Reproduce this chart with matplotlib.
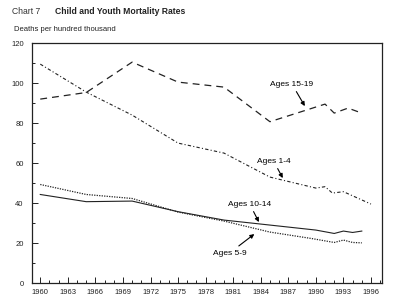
import matplotlib.pyplot as plt
from matplotlib.ticker import MultipleLocator

plt.rcParams['font.family'] = ['Liberation Sans', 'DejaVu Sans']

# Deaths per hundred thousand
years_15_19 = [1960, 1965, 1970, 1975, 1980, 1985, 1991, 1992, 1993.5, 1995]
ages_15_19 = [92, 95.3, 110.5, 100.5, 98, 80.7, 89.5, 85, 87.5, 85]

years_1_4 = [1960, 1965, 1970, 1975, 1980, 1985, 1990, 1991, 1991.8, 1993, 1996]
ages_1_4 = [109.5, 95.5, 84, 70, 65, 53, 47.5, 48.2, 45, 45.7, 39.5]

years_10_14 = [1960, 1965, 1970, 1975, 1980, 1985, 1990, 1992, 1993, 1994, 1995]
ages_10_14 = [44.3, 40.7, 41, 35.7, 31.5, 29, 26.5, 24.8, 26, 25.3, 26]

years_5_9 = [1960, 1965, 1970, 1975, 1980, 1985, 1989.5, 1992, 1993, 1994, 1995]
ages_5_9 = [49.3, 44.3, 42.3, 35.5, 31, 25.5, 22.3, 20.3, 21.5, 20.3, 20.1]

xticks = list(range(1960, 1997, 3))

fig = plt.figure(figsize=(4, 3.08), dpi=100)
ax = fig.add_axes([0.08, 0.081, 0.875, 0.779])

ax.plot(years_15_19, ages_15_19, color='#222222', lw=0.9, linestyle=(0, (5.5, 4)))
ax.plot(years_1_4, ages_1_4, color='#222222', lw=0.8, linestyle=(0, (3, 2, 1, 2)))
ax.plot(years_10_14, ages_10_14, color='#222222', lw=0.8)
ax.plot(years_5_9, ages_5_9, color='#222222', lw=0.9, linestyle=(0, (1, 1)))

arrow = dict(arrowstyle='-|>', color='black', lw=0.8, mutation_scale=6, shrinkA=1, shrinkB=0)
kw = dict(fontsize=6, ha='center', va='center', arrowprops=arrow)
ax.annotate('Ages 15-19', xy=(1988.8, 88.5), xytext=(1987.4, 99.5), **kw)
ax.annotate('Ages 1-4', xy=(1986.4, 52.5), xytext=(1985.4, 61), **kw)
ax.annotate('Ages 10-14', xy=(1983.8, 30.5), xytext=(1982.8, 39.5), **kw)
ax.annotate('Ages 5-9', xy=(1983.3, 24.5), xytext=(1980.6, 15), **kw)

ax.set_xlim(1959.1, 1997.2)
ax.set_ylim(0, 120)
ax.set_xticks(xticks)
ax.xaxis.set_minor_locator(MultipleLocator(1))
ax.yaxis.set_major_locator(MultipleLocator(20))
ax.yaxis.set_minor_locator(MultipleLocator(10))
ax.tick_params(which='both', direction='in', labelsize=5.5, width=0.7, colors='#222222')
ax.tick_params(which='major', length=4, pad=4)
ax.tick_params(which='minor', length=2)
ax.tick_params(axis='y', pad=6)
for s in ax.spines.values():
    s.set_linewidth(0.9)
    s.set_color('#222222')

fig.text(0.03, 0.962, 'Chart 7', fontsize=6.2, va='center', color='#333333')
fig.text(0.137, 0.962, 'Child and Youth Mortality Rates', fontsize=6.2,
         fontweight='bold', va='center', color='#222222')
fig.text(0.035, 0.905, 'Deaths per hundred thousand', fontsize=5.5, va='center', color='#222222')

fig.savefig('out.png', dpi=100)
